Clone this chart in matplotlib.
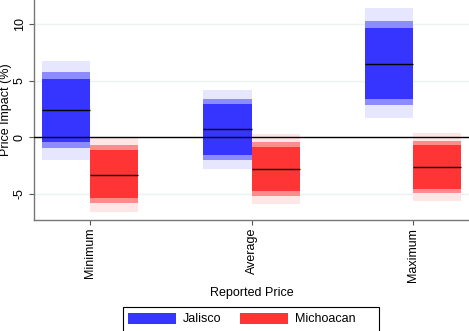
import matplotlib
matplotlib.use("Agg")
import matplotlib.pyplot as plt
from matplotlib.patches import Patch, Rectangle
import numpy as np

plt.rcParams['font.family'] = ['Liberation Sans', 'DejaVu Sans']

categories = ["Minimum", "Average", "Maximum"]
groups = ["Jalisco", "Michoacan"]

# point estimates
jal_est = [2.4, 0.7, 6.5]
mich_est = [-3.3, -2.8, -2.6]

# confidence bands: low/high for outer, middle, inner bands
jal_outer_lo = [-2.0, -2.8, 1.7]
jal_outer_hi = [6.7, 4.2, 11.4]
jal_mid_lo = [-0.95, -2.0, 2.8]
jal_mid_hi = [5.75, 3.35, 10.25]
jal_in_lo = [-0.45, -1.6, 3.4]
jal_in_hi = [5.15, 2.95, 9.6]

mich_outer_lo = [-6.6, -5.85, -5.6]
mich_outer_hi = [-0.05, 0.25, 0.35]
mich_mid_lo = [-5.8, -5.2, -4.9]
mich_mid_hi = [-0.7, -0.4, -0.35]
mich_in_lo = [-5.4, -4.75, -4.55]
mich_in_hi = [-1.15, -0.85, -0.7]

yticks = [-5, 0, 5, 10]

blue = ["#e6e6ff", "#8c8cff", "#3535ff"]
red = ["#ffe6e6", "#ff8c8c", "#ff3535"]

fig = plt.figure(figsize=(4.69, 3.31), dpi=100)
ax = fig.add_axes([34/469, 111/331, 1 - 34/469, 1 - 111/331])

x = np.arange(1, len(categories) + 1)
w = 0.3

def draw(offset, los, his, est, colors):
    for lo, hi, c in zip(los, his, colors):
        ax.bar(x + offset, np.array(hi) - np.array(lo), bottom=lo, width=w,
               color=c, align='edge', linewidth=0, zorder=2)
    for xi, e in zip(x, est):
        ax.hlines(e, xi + offset, xi + offset + w, color='black', lw=1.0, zorder=3)

draw(-w, [jal_outer_lo, jal_mid_lo, jal_in_lo], [jal_outer_hi, jal_mid_hi, jal_in_hi], jal_est, blue)
draw(0, [mich_outer_lo, mich_mid_lo, mich_in_lo], [mich_outer_hi, mich_mid_hi, mich_in_hi], mich_est, red)

ax.axhline(0, color='black', lw=1.0, zorder=4)
for yt in [-5, 5, 10]:
    ax.axhline(yt, color='#eaf2f3', lw=1.0, zorder=1)

ax.set_xlim(0.653, 3.347)
ax.set_ylim(-7.3, 12.1)
ax.set_yticks(yticks)
ax.set_yticklabels([str(v) for v in yticks], rotation=90, va='center', fontsize=9)
ax.set_xticks(x)
ax.set_xticklabels(categories, rotation=90, fontsize=9)
ax.tick_params(axis='both', color='#555555', length=3.5, width=0.8)
ax.tick_params(axis='x', pad=2)
ax.tick_params(axis='y', pad=2.3)
for s in ['top', 'right']:
    ax.spines[s].set_visible(False)
for s in ['left', 'bottom']:
    ax.spines[s].set_color('#777777')
    ax.spines[s].set_linewidth(1.0)

ax.set_ylabel("Price Impact (%)", fontsize=9)
ax.yaxis.label.set_va('center')
ax.yaxis.set_label_coords(-28/435, 0.5)
ax.set_xlabel("Reported Price", fontsize=9)
ax.xaxis.label.set_va('center')
ax.xaxis.set_label_coords(0.5, -73/220)

handles = [Patch(facecolor=blue[2], edgecolor='none', label=groups[0]),
           Patch(facecolor=red[2], edgecolor='none', label=groups[1])]
leg = fig.legend(handles=handles, loc='center left', bbox_to_anchor=(128/469, 1 - 319/331),
                 ncol=2, fontsize=9, frameon=False,
                 handlelength=3.84, handleheight=0.96, columnspacing=1.5,
                 borderpad=0, handletextpad=0.56, borderaxespad=0)
fig.patches.append(Rectangle((123/469, -0.02), (379 - 123)/469, (331 - 307)/331 + 0.02,
                             transform=fig.transFigure, fill=False,
                             edgecolor='black', lw=0.8))

fig.savefig("out.png", dpi=100)
